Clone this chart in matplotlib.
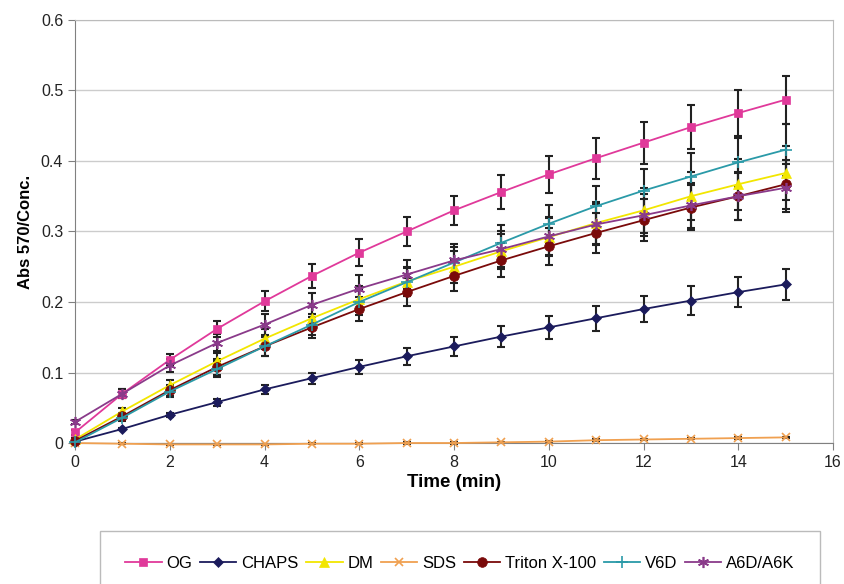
import numpy as np
import matplotlib.pyplot as plt

plt.rcParams['font.family'] = ['Liberation Sans', 'DejaVu Sans']

time = list(range(16))

og = [0.015, 0.070, 0.118, 0.162, 0.201, 0.237, 0.270, 0.300, 0.330, 0.356, 0.381, 0.404, 0.426, 0.448, 0.468, 0.487]
og_err = [0.004, 0.006, 0.008, 0.011, 0.014, 0.017, 0.019, 0.021, 0.021, 0.024, 0.026, 0.029, 0.030, 0.031, 0.033, 0.034]

chaps = [0.002, 0.020, 0.040, 0.058, 0.076, 0.092, 0.108, 0.123, 0.137, 0.151, 0.164, 0.177, 0.190, 0.202, 0.214, 0.225]
chaps_err = [0.001, 0.002, 0.003, 0.005, 0.006, 0.008, 0.010, 0.012, 0.014, 0.015, 0.016, 0.018, 0.019, 0.020, 0.021, 0.022]

dm = [0.005, 0.045, 0.082, 0.116, 0.148, 0.177, 0.204, 0.229, 0.250, 0.272, 0.292, 0.312, 0.330, 0.350, 0.367, 0.383]
dm_err = [0.002, 0.005, 0.008, 0.011, 0.014, 0.016, 0.018, 0.021, 0.023, 0.025, 0.027, 0.030, 0.032, 0.034, 0.036, 0.038]

sds = [0.000, -0.001, -0.002, -0.002, -0.002, -0.001, -0.001, 0.000, 0.000, 0.001, 0.002, 0.004, 0.005, 0.006, 0.007, 0.008]
sds_err = [0.001] * 16

triton = [0.003, 0.038, 0.075, 0.108, 0.137, 0.164, 0.190, 0.214, 0.237, 0.259, 0.279, 0.298, 0.316, 0.334, 0.350, 0.367]
triton_err = [0.002, 0.005, 0.008, 0.011, 0.013, 0.015, 0.017, 0.020, 0.022, 0.024, 0.026, 0.028, 0.030, 0.032, 0.034, 0.035]

v6d = [0.001, 0.036, 0.073, 0.105, 0.137, 0.168, 0.200, 0.228, 0.256, 0.284, 0.311, 0.336, 0.358, 0.378, 0.398, 0.416]
v6d_err = [0.002, 0.005, 0.008, 0.011, 0.013, 0.015, 0.018, 0.020, 0.022, 0.025, 0.027, 0.029, 0.031, 0.033, 0.035, 0.037]

a6d = [0.030, 0.070, 0.110, 0.142, 0.168, 0.196, 0.219, 0.239, 0.259, 0.275, 0.293, 0.310, 0.323, 0.337, 0.350, 0.362]
a6d_err = [0.003, 0.006, 0.009, 0.012, 0.015, 0.017, 0.019, 0.021, 0.023, 0.025, 0.027, 0.029, 0.030, 0.032, 0.033, 0.034]

series = [
    ('OG', og, og_err, '#e0399a', 's', 6),
    ('CHAPS', chaps, chaps_err, '#1b1b5c', 'D', 5),
    ('DM', dm, dm_err, '#f2e600', '^', 7),
    ('SDS', sds, sds_err, '#f0a050', 'x', 6),
    ('Triton X-100', triton, triton_err, '#7a0a0a', 'o', 7),
    ('V6D', v6d, v6d_err, '#2a9aa8', '+', 8),
    ('A6D/A6K', a6d, a6d_err, '#8a3a8a', (6, 2, 0), 8),
]

fig = plt.figure(figsize=(8.44, 5.84), dpi=100)
ax = fig.add_axes([0.0889, 0.2414, 0.8981, 0.7244])

for name, y, err, col, mk, ms in series:
    ax.errorbar(time, y, yerr=err, fmt='none', ecolor='#222222', elinewidth=1.5,
                capsize=3, capthick=1.5, zorder=2, clip_on=False)
    ax.plot(time, y, color=col, marker=mk, markersize=ms, linewidth=1.3,
            markeredgewidth=1.2 if mk in ('x', '+') or isinstance(mk, tuple) else 0.5,
            markeredgecolor=col, label=name, zorder=3, clip_on=False)

ax.set_xlim(0, 16)
ax.set_ylim(0, 0.6)
ax.set_xticks(range(0, 17, 2))
ax.set_yticks(np.arange(0, 0.61, 0.1))
ax.set_yticklabels(['0', '0.1', '0.2', '0.3', '0.4', '0.5', '0.6'])
ax.yaxis.grid(True, color='#cccccc', linewidth=1)
ax.set_axisbelow(True)
for s in ['top', 'right']:
    ax.spines[s].set_color('#bbbbbb')
for s in ['left', 'bottom']:
    ax.spines[s].set_color('#808080')
ax.tick_params(axis='both', labelsize=11.5, labelcolor='#222222', color='#808080', length=5, direction='out')
ax.set_xlabel('Time (min)', fontsize=13.5, fontweight='bold', labelpad=3)
ax.set_ylabel('Abs 570/Conc.', fontsize=12, fontweight='bold', labelpad=6)

handles, labels = ax.get_legend_handles_labels()
leg = fig.legend(handles, labels, loc='upper left', bbox_to_anchor=(0.1185, 0.0908, 0.853, 0),
                 mode='expand', ncol=7, fontsize=12, frameon=True, fancybox=False,
                 borderpad=1.5, handlelength=2.2, handletextpad=0.3, borderaxespad=0,
                 columnspacing=1.3)
leg.get_frame().set_edgecolor('#aaaaaa')
leg.get_frame().set_linewidth(1)

fig.savefig('out.png', dpi=100)
